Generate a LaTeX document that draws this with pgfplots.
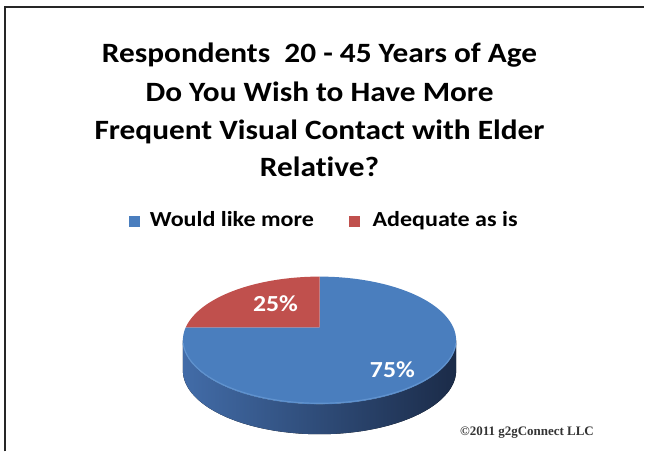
\documentclass[border=0pt]{standalone}
\usepackage{pgfplots}
\pgfplotsset{compat=1.18}
\usepackage{pgfplotstable}
\usepgfplotslibrary{fillbetween}
\usepackage{fontspec}
\setmainfont{Carlito}[FakeStretch=1.12, Ligatures={NoCommon}]
\newfontfamily\copyfont{Liberation Serif}
\definecolor{pieblue}{RGB}{74,126,190}
\definecolor{pierim}{RGB}{96,146,206}
\definecolor{piered}{RGB}{192,80,77}
\definecolor{sideL}{RGB}{66,108,168}
\definecolor{sideM}{RGB}{44,72,115}
\definecolor{sideR}{RGB}{27,43,72}

\pgfplotstableread{
value
75
25
}\pietable
\pgfplotstablegetelem{0}{value}\of\pietable \edef\vA{\pgfplotsretval}
\pgfplotstablegetelem{1}{value}\of\pietable \edef\vB{\pgfplotsretval}
\pgfmathsetmacro\angB{90+3.6*\vB}
\pgfmathsetmacro\angA{\angB+3.6*\vA}

\begin{document}
\begin{tikzpicture}
\begin{axis}[width=645pt,height=452pt,scale only axis,
  xmin=0,xmax=645,ymin=0,ymax=452,y dir=reverse,hide axis,clip=false]
\path (axis cs:0,0) rectangle (axis cs:645,452);
% frame
\draw[line width=2pt, black!85] (axis cs:5,452) -- (axis cs:5,7) -- (axis cs:645,7);
% side of pie
\addplot[draw=none, name path=top, domain=191.71:348.29, samples=80]
  ({320+134*cos(x)/(1+0.203*sin(x))},{26+302/(1+0.203*sin(x))});
\addplot[draw=none, name path=bot, domain=191.71:348.29, samples=80]
  ({320+134*cos(x)/(1+0.203*sin(x))},{56+302/(1+0.203*sin(x))});
\addplot[left color=sideL, middle color=sideM, right color=sideR] fill between[of=top and bot];
% top faces
\addplot[fill=pieblue, draw=none, domain=\angB:\angA, samples=160]
  ({320+134*cos(x)/(1+0.203*sin(x))},{26+302/(1+0.203*sin(x))}) -- (axis cs:320,328) -- cycle;
\addplot[fill=piered, draw=none, domain=90:\angB, samples=60]
  ({320+134*cos(x)/(1+0.203*sin(x))},{26+302/(1+0.203*sin(x))}) -- (axis cs:320,328) -- cycle;
\addplot[draw=pierim, line width=1.2pt, domain=195:345, samples=80]
  ({320+134*cos(x)/(1+0.203*sin(x))},{25+302/(1+0.203*sin(x))});
% labels
\node[text=white, font=\bfseries\fontsize{23}{25}\selectfont] at (axis cs:276,304) {25\%};
\node[text=white, font=\bfseries\fontsize{23}{25}\selectfont] at (axis cs:393,370) {75\%};
% title
\node[anchor=base, font=\bfseries\fontsize{28}{30}\selectfont] at (axis cs:320,63) {Respondents\ \ 20 - 45 Years of Age};
\node[anchor=base, font=\bfseries\fontsize{28}{30}\selectfont] at (axis cs:320,102) {Do You Wish to Have More};
\node[anchor=base, font=\bfseries\fontsize{28}{30}\selectfont] at (axis cs:320,140) {Frequent Visual Contact with Elder};
\node[anchor=base, font=\bfseries\fontsize{28}{30}\selectfont] at (axis cs:320,177) {Relative?};
% legend
\fill[pieblue] (axis cs:129,216) rectangle (axis cs:140,227);
\node[anchor=base west, inner sep=0pt, font=\bfseries\fontsize{21.5}{24}\selectfont] at (axis cs:150,227) {Would like more};
\fill[piered] (axis cs:350,216) rectangle (axis cs:361,227);
\node[anchor=base west, inner sep=0pt, font=\bfseries\fontsize{21.5}{24}\selectfont] at (axis cs:373,227) {Adequate as is};
% copyright
\node[anchor=base east, inner sep=0pt, text=black!80, font=\copyfont\bfseries\fontsize{13}{15}\selectfont] at (axis cs:595,436) {\textcopyright 2011 g2gConnect LLC};
\end{axis}
\end{tikzpicture}
\end{document}
